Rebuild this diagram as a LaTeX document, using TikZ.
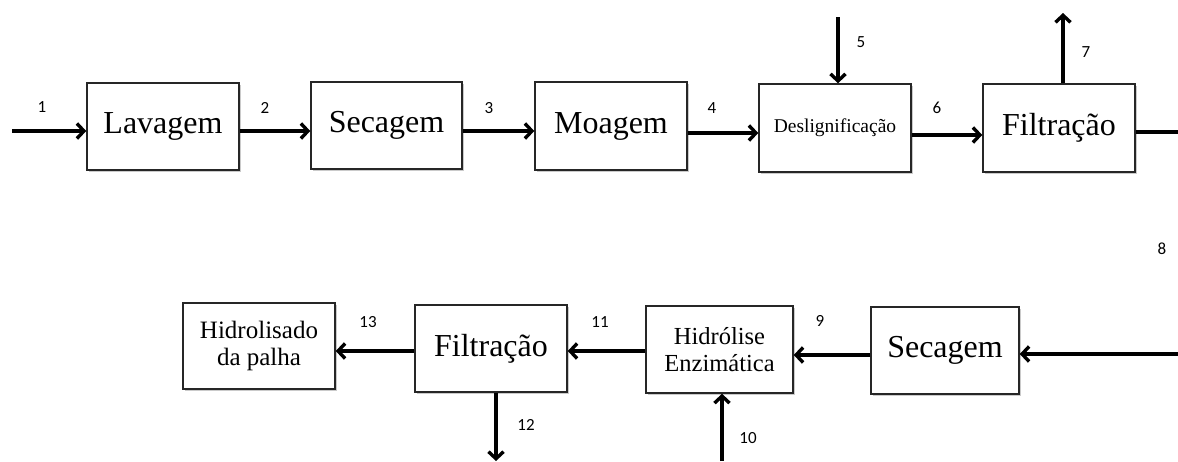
\documentclass[tikz,border=0pt]{standalone}
\usepackage{fontspec}
\setmainfont{Liberation Serif}
\newfontfamily\numfont{Carlito}
\usetikzlibrary{arrows.meta,shadows}
\begin{document}
\begin{tikzpicture}[x=1pt,y=-1pt,
  box/.style={draw=black!85,line width=1.5pt,fill=white,align=center,inner sep=0pt,
    drop shadow={shadow xshift=1.5pt,shadow yshift=-1.5pt,opacity=0.35,fill=black!60}},
  arr/.style={line width=3.4pt,-{Straight Barb[length=7pt,width=15pt]}},
  ln/.style={line width=3.4pt},
  lbl/.style={font=\numfont\fontsize{17}{17}\selectfont,inner sep=0pt}]
\useasboundingbox (0,0) rectangle (1178,461);
% top row
\node[box,minimum width=152pt,minimum height=87pt,font=\fontsize{32}{34}\selectfont] (b1) at (163,126.5) {Lavagem};
\node[box,minimum width=151pt,minimum height=87pt,font=\fontsize{32}{34}\selectfont] (b2) at (386.5,125.5) {Secagem};
\node[box,minimum width=152pt,minimum height=88pt,font=\fontsize{32}{34}\selectfont] (b3) at (611,126) {Moagem};
\node[box,minimum width=152pt,minimum height=88pt,font=\fontsize{19.5}{20}\selectfont] (b4) at (835,128) {Deslignificação};
\node[box,minimum width=152pt,minimum height=88pt,font=\fontsize{32}{34}\selectfont] (b5) at (1059,128) {Filtração};
% bottom row
\node[box,minimum width=152pt,minimum height=86pt,font=\fontsize{25}{27}\selectfont] (c1) at (259,346) {Hidrolisado\\da palha};
\node[box,minimum width=152pt,minimum height=87pt,font=\fontsize{32}{34}\selectfont] (c2) at (491,348.5) {Filtração};
\node[box,minimum width=147pt,minimum height=87pt,font=\fontsize{24.5}{27}\selectfont] (c3) at (719.5,349.5) {Hidrólise\\Enzimática};
\node[box,minimum width=148pt,minimum height=87pt,font=\fontsize{32}{34}\selectfont] (c4) at (945,350.5) {Secagem};
% coordinates
\coordinate (r1) at (0,131);
\coordinate (r2) at (0,353);
\coordinate (in1) at (12,131);
\coordinate (out1) at (1178,132);
\coordinate (in8) at (1178,354);
\coordinate (in5) at (838,17);
\coordinate (out7) at (1063,13);
\coordinate (out12) at (496,461);
\coordinate (in10) at (722,461);
% connectors top
\draw[arr] (in1) -- (b1.west |- in1);
\draw[arr] (b1.east |- r1) -- (b2.west |- r1);
\draw[arr] (b2.east |- r1) -- (b3.west |- r1);
\draw[arr] ([yshift=-2pt]b3.east |- r1) -- ([yshift=-2pt]b4.west |- r1);
\draw[arr] ([yshift=-4pt]b4.east |- r1) -- ([yshift=-4pt]b5.west |- r1);
\draw[ln] (b5.east |- out1) -- (out1);
\draw[arr] (in5) -- (in5 |- b4.north);
\draw[arr] (out7 |- b5.north) -- (out7);
% connectors bottom
\draw[arr] (in8) -- (c4.east |- in8);
\draw[arr] ([yshift=-2pt]c4.west |- r2) -- ([yshift=-2pt]c3.east |- r2);
\draw[arr] ([yshift=2pt]c3.west |- r2) -- ([yshift=2pt]c2.east |- r2);
\draw[arr] ([yshift=2pt]c2.west |- r2) -- ([yshift=2pt]c1.east |- r2);
\draw[arr] (out12 |- c2.south) -- (out12);
\draw[arr] (in10) -- (in10 |- c3.south);
% labels
\node[lbl] (l1) at (42,107) {1};
\node[lbl] (l2) at (265,108) {2};
\node[lbl] (l3) at (489,108) {3};
\node[lbl] (l4) at (712,108) {4};
\node[lbl] (l5) at (861,42) {5};
\node[lbl] (l6) at (937,108) {6};
\node[lbl] (l7) at (1086,52) {7};
\node[lbl] (l8) at (1162,249) {8};
\node[lbl] (l9) at (820,321) {9};
\node[lbl] (l10) at (748,438) {10};
\node[lbl] (l11) at (600,322) {11};
\node[lbl] (l12) at (526,425) {12};
\node[lbl] (l13) at (368,322) {13};
\end{tikzpicture}
\end{document}
